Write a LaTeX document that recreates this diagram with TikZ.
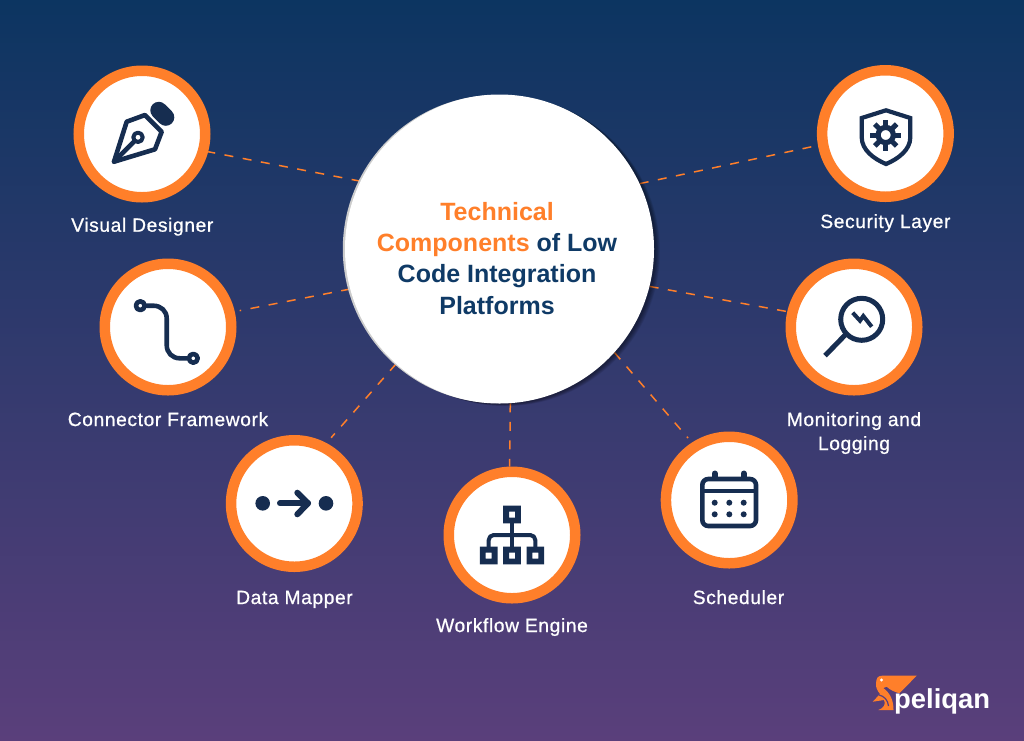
\documentclass[tikz,border=0pt]{standalone}
\usepackage{fontspec}
\setmainfont{Liberation Sans}
\newfontfamily\labelfont[FakeBold=0.8,LetterSpace=3.2]{Liberation Sans}
\newfontfamily\titlefont{Liberation Sans Bold}
\newfontfamily\brandfont{Liberation Sans Bold}
\usetikzlibrary{backgrounds}
\definecolor{bgtop}{RGB}{12,53,97}
\definecolor{bgbottom}{RGB}{90,63,123}
\definecolor{ringorange}{RGB}{255,127,42}
\definecolor{titlenavy}{RGB}{15,58,102}
\definecolor{iconnavy}{RGB}{22,45,80}
\tikzset{
  x=1pt,y=-1pt,
  ring/.style={circle,draw=ringorange,fill=white,line width=10.5pt,minimum size=126.5pt,inner sep=0pt},
  hub/.style={circle,fill=white,minimum size=309pt,inner sep=0pt},
  link/.style={draw=ringorange,line width=1.5pt,dash pattern=on 9pt off 9.5pt},
  caption/.style={anchor=base,text=white,font=\labelfont\fontsize{19.2}{24}\selectfont,align=center},
  headline/.style={anchor=base,font=\titlefont\fontsize{25}{30}\selectfont},
  glyph/.style={draw=iconnavy,line width=4.6pt,line cap=round,line join=round},
  solid glyph/.style={fill=iconnavy,draw=none}
}
\begin{document}
\begin{tikzpicture}
\useasboundingbox (0,0) rectangle (1024,740);

% central disc and the seven component rings
\node[hub] (hub) at (499.5,249) {};
\node[ring] (designer) at (142,134) {};
\node[ring] (security) at (885.4,133.5) {};
\node[ring] (connector) at (168,327) {};
\node[ring] (monitoring) at (854,327) {};
\node[ring] (mapper) at (294.3,503.5) {};
\node[ring] (workflow) at (512,535) {};
\node[ring] (scheduler) at (729.2,500) {};

\begin{scope}[on background layer]
  \shade[top color=bgtop,bottom color=bgbottom] (0,0) rectangle (1024,740);
  \draw[link] (hub.154.8) -- (designer.-15.6);
  \draw[link] (hub.25.8) -- (security.190.4);
  \draw[link] (hub.-14.7) -- (monitoring.167.4);
  \draw[link,shorten >=5pt] (hub.195.7) -- (connector.13);
  \draw[link,shorten >=7pt] (hub.228) -- (mapper.62);
  \draw[link] (hub.274.7) -- (workflow.92);
  \draw[link,shorten >=6pt] (hub.-42.5) -- (scheduler.123);
  % soft dark shadow to the lower right, pale rim to the left
  \foreach \s in {8.5,7.5,...,2.5}
    \fill[black,opacity=0.07] (499.5+\s*0.7,249+\s*0.3) circle[radius=154.5];
  \fill[black!20] (496.8,249) circle[radius=154];
\end{scope}

% headline
\node[headline,text=ringorange] (t1) at (497,220) {Technical};
\node[headline] (t2) at (497,251.5) {\textcolor{ringorange}{Components} \textcolor{titlenavy}{of Low}};
\node[headline,text=titlenavy] (t3) at (497,282.7) {Code Integration};
\node[headline,text=titlenavy] (t4) at (497,314) {Platforms};

% captions
\node[caption] (c1) at (142.3,231.7) {Visual Designer};
\node[caption] (c2) at (885.4,228) {Security Layer};
\node[caption] (c3) at (168,426) {Connector Framework};
\node[caption] (c4) at (854,426) {Monitoring and};
\node[caption] (c5) at (854,450) {Logging};
\node[caption] (c6) at (294.5,604) {Data Mapper};
\node[caption] (c7) at (512,632) {Workflow Engine};
\node[caption] (c8) at (738.5,604) {Scheduler};

% fountain pen
\draw[glyph,line width=17pt] (158.8,110.3) -- (165.8,117.3);
\draw[glyph] (114,161.7) -- (126.7,121.7) -- (145,115) -- (161.7,131.7) -- (155,149.3) -- cycle;
\draw[glyph] (114,161.7) -- (134.5,141);
\draw[glyph,line width=4pt] (138,137.3) circle[radius=4.7];

% shield with gear
\draw[glyph,line width=4.2pt,line join=miter] (886,110.3) -- (861.7,118) -- (861.7,137.3)
  .. controls (861.7,150) and (874,159) .. (886,164)
  .. controls (898,159) and (910.3,150) .. (910.3,137.3) -- (910.3,118) -- cycle;
\draw[glyph,line width=5.2pt] (885.7,135) circle[radius=7.6];
\foreach \a in {0,45,...,315}
  \draw[iconnavy,line width=5pt] (885.7,135) ++(\a:9pt) -- ++(\a:6.5pt);

% magnifier with fault bolt
\draw[glyph,line width=5pt] (861.7,319.3) circle[radius=21];
\draw[glyph,line width=5pt,line cap=butt] (845.5,334.6) -- (825,355.7);
\draw[glyph,line width=4pt,line cap=butt,line join=miter] (852.7,312.7) -- (860,320.7) -- (863.3,316) -- (871.7,326.7);

% connector curve
\draw[glyph] (146.7,305.7) -- (153.3,305.7)
  .. controls (161,305.7) and (166.7,311) .. (166.7,318.3) -- (166.7,345)
  .. controls (166.7,352.5) and (172,358.3) .. (180,358.3) -- (186.7,358.3);
\draw[glyph] (140.3,305.7) circle[radius=4.4];
\draw[glyph] (193.3,358.3) circle[radius=4.4];

% mapping arrow between two dots
\fill[solid glyph] (262.7,503.3) circle[radius=7.3];
\fill[solid glyph] (326,503.3) circle[radius=7.3];
\draw[glyph,line width=6pt] (280,503.3) -- (308,503.3);
\draw[glyph,line width=6pt] (297.3,492.7) -- (308,503.3) -- (297.3,514.3);

% workflow tree
\draw[glyph,line width=4pt,line cap=butt] (512,523) -- (512,547);
\draw[glyph,line width=4pt,line cap=butt,rounded corners=5pt] (488.7,547) -- (488.7,535) -- (535.3,535) -- (535.3,547);
\foreach \cx/\cy in {512/514.5,488.7/555.5,512/555.5,535.3/555.5}
  \fill[iconnavy,even odd rule] (\cx-8.8,\cy-8.8) rectangle (\cx+8.8,\cy+8.8)
    (\cx-3,\cy-3) rectangle (\cx+3,\cy+3);

% calendar
\draw[glyph,rounded corners=6pt] (702.3,479) rectangle (756,526);
\draw[glyph,line cap=butt] (702.3,491) -- (756,491);
\draw[glyph,line width=6pt] (714.7,473.5) -- (714.7,477);
\draw[glyph,line width=6pt] (743.7,473.5) -- (743.7,477);
\foreach \px in {714.7,729.3,743.7}
  \foreach \py in {502.7,514.3}
    \fill[solid glyph] (\px,\py) circle[radius=3];

% brand mark
\fill[ringorange] (876,684) .. controls (876,678) and (878,675.7) .. (882,675.7)
  -- (916.7,675.7) -- (899.3,693.3)
  .. controls (895,692) and (890,690) .. (886.7,686.7)
  -- (883.3,688)
  .. controls (890,693) and (893.5,700) .. (893.5,710) -- (878.3,710)
  .. controls (884,708) and (886,704) .. (884,700) -- (872.7,701.7)
  -- (880,694) .. controls (877,690) and (876,688) .. (876,684) -- cycle;
\fill[white] (881.5,680) circle[radius=1.6];
\draw[bgbottom,line width=1.2pt] (879,695) .. controls (884,696) and (888,700) .. (888.5,706);
\node[anchor=base west,inner sep=0pt,text=white,font=\brandfont\fontsize{27.4}{30}\selectfont] (brand) at (894,708.3) {peliqan};
\end{tikzpicture}
\end{document}
